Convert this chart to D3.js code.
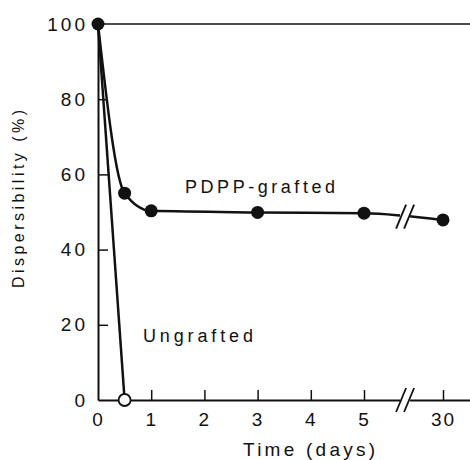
<!DOCTYPE html>
<html>
<head>
<meta charset="utf-8">
<script src="https://cdn.jsdelivr.net/npm/d3@7"></script>
<style>
  body { margin: 0; background: #fff; }
  svg { display: block; }
  text { font-family: "Liberation Sans", Arial, sans-serif; fill: #111; }
</style>
</head>
<body>
<div id="chart"></div>
<script>
// data
const xTicks = [0, 1, 2, 3, 4, 5, 30];
const yTicks = [0, 20, 40, 60, 80, 100];
const graftedDays = [0, 0.5, 1, 3, 5, 30];
const graftedValues = [100, 55, 50.3, 49.9, 49.7, 47.9];
const ungraftedDays = [0, 0.5];
const ungraftedValues = [100, 0];

const w = 470, h = 460;

const svg = d3.select('#chart').append('svg')
  .attr('width', w)
  .attr('height', h);

// broken axis: 0-5 days linear, then jump to 30
const x = d3.scaleLinear()
  .domain([0, 5, 30, 34])
  .range([98, 364, 443, 470]);

const y = d3.scaleLinear()
  .domain([0, 100])
  .range([400, 24]);

const ink = '#111';

// top frame line
svg.append('line')
  .attr('x1', x(0)).attr('x2', w)
  .attr('y1', y(100)).attr('y2', y(100))
  .attr('stroke', ink).attr('stroke-width', 1.5);

const xAxis = svg.append('g')
  .attr('transform', 'translate(0,' + y(0) + ')')
  .call(d3.axisBottom(x).tickValues(xTicks).tickSize(-10).tickSizeOuter(0).tickPadding(13));

const yAxis = svg.append('g')
  .attr('transform', 'translate(' + x(0) + ',0)')
  .call(d3.axisLeft(y).tickValues(yTicks).tickSize(-10).tickSizeOuter(0).tickPadding(10));

[xAxis, yAxis].forEach(g => {
  g.select('.domain').attr('stroke', ink).attr('stroke-width', 2);
  g.selectAll('.tick line').attr('stroke', ink).attr('stroke-width', 1.5);
  g.selectAll('.tick text')
    .style('font-family', '"Liberation Sans", Arial, sans-serif')
    .style('font-size', '19px')
    .attr('fill', ink);
});
yAxis.selectAll('.tick text').style('letter-spacing', '3px');
xAxis.selectAll('.tick text').style('letter-spacing', '2px');
xAxis.selectAll('.tick').filter(d => d === 0).select('line').remove();
yAxis.selectAll('.tick').filter(d => d === 0 || d === 100).select('line').remove();

// lines
const line = d3.line()
  .x(d => x(d[0]))
  .y(d => y(d[1]));

const grafted = graftedDays.map((d, i) => [d, graftedValues[i]]);
const ungrafted = ungraftedDays.map((d, i) => [d, ungraftedValues[i]]);

svg.append('path')
  .datum(grafted)
  .attr('d', line.curve(d3.curveMonotoneX))
  .attr('fill', 'none')
  .attr('stroke', ink)
  .attr('stroke-width', 2.5);

svg.append('path')
  .datum(ungrafted)
  .attr('d', line.curve(d3.curveLinear))
  .attr('fill', 'none')
  .attr('stroke', ink)
  .attr('stroke-width', 2.5);

// break marks on the axis and on the grafted line
function breakMark(cx, cy) {
  svg.append('rect')
    .attr('x', cx - 5).attr('y', cy - 4)
    .attr('width', 10).attr('height', 8)
    .attr('fill', '#fff');
  [-4, 4].forEach(off => {
    svg.append('line')
      .attr('x1', cx + off - 5).attr('y1', cy + 12)
      .attr('x2', cx + off + 5).attr('y2', cy - 12)
      .attr('stroke', ink).attr('stroke-width', 1.8);
  });
}
const breakDay = 18;
breakMark(x(breakDay), y(0));
breakMark(x(breakDay), y(d3.scaleLinear().domain([5, 30]).range([49.7, 47.9])(breakDay)));

// markers
svg.selectAll('.g-dot')
  .data(grafted)
  .enter().append('circle')
  .attr('cx', d => x(d[0]))
  .attr('cy', d => y(d[1]))
  .attr('r', 6.5)
  .attr('fill', ink);

svg.selectAll('.u-dot')
  .data(ungrafted.slice(1))
  .enter().append('circle')
  .attr('cx', d => x(d[0]))
  .attr('cy', d => y(d[1]))
  .attr('r', 6)
  .attr('fill', '#fff')
  .attr('stroke', ink)
  .attr('stroke-width', 1.8);

// labels
function label(txt, tx, ty, len, size, rotate) {
  const t = svg.append('text')
    .attr('x', tx).attr('y', ty)
    .attr('text-anchor', 'middle')
    .attr('textLength', len)
    .attr('lengthAdjust', 'spacing')
    .style('font-size', size + 'px')
    .text(txt);
  if (rotate) t.attr('transform', 'rotate(-90,' + tx + ',' + ty + ')');
  return t;
}
label('PDPP-grafted', 260, 193, 150, 18);
label('Ungrafted', 198, 342, 110, 18);
label('Time (days)', 309, 456, 132, 19);
label('Dispersibility (%)', 24, 199, 178, 16, true);
</script>
</body>
</html>
